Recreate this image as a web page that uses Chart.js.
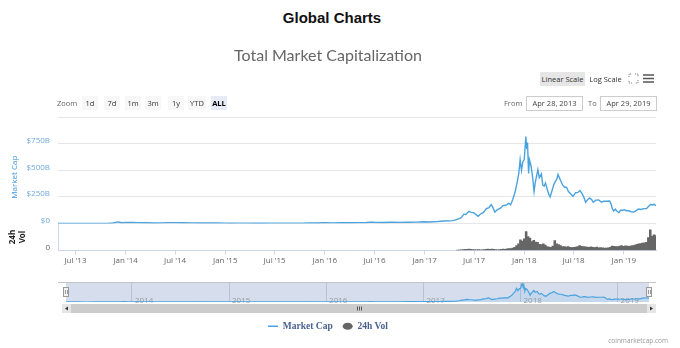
<!DOCTYPE html>
<html>
<head>
<meta charset="utf-8">
<script src="https://cdn.jsdelivr.net/npm/chart.js@4.4.1/dist/chart.umd.min.js"></script>
<style>
  html, body { margin: 0; padding: 0; background: #fff; }
  body { position: relative; width: 680px; height: 348px; overflow: hidden; font-family: "Open Sans", sans-serif; }
  #page-title { position: absolute; left: 0; top: 9px; width: 664px; text-align: center; font: bold 15px "Liberation Sans", Arial, sans-serif; color: #111; }
  #main { position: absolute; left: 0; top: 36px; }
  #nav { position: absolute; left: 0; top: 278px; }
  .btn { position: absolute; height: 14px; line-height: 14px; font-size: 7.5px; color: #333; text-align: center; }
  .zoom { top: 96px; background: #f7f7f7; width: 16px; }
  .zoom.on { background: #e6ebf5; font-weight: bold; color: #000; }
  .lbl { position: absolute; font-size: 7.5px; color: #666; line-height: 14px; }
  .box { position: absolute; top: 96px; height: 13px; line-height: 13px; border: 1px solid #ccc; font-size: 7.5px; color: #444; text-align: center; }
  #sep { position: absolute; left: 58px; top: 117px; width: 598px; height: 1px; background: #e6e6e6; }
  #credit { position: absolute; right: 12px; top: 336px; font-size: 6.5px; color: #999; }
</style>
</head>
<body>
<div id="page-title">Global Charts</div>
<canvas id="main" width="680" height="312"></canvas>
<canvas id="nav" width="680" height="40"></canvas>

<div class="btn" style="left:540px;top:72px;width:45px;background:#e6e6e6;">Linear Scale</div>
<div class="btn" style="left:589px;top:72px;width:33px;">Log Scale</div>
<svg style="position:absolute;left:628px;top:73px" width="11" height="11" viewBox="0 0 11 11">
  <path d="M1 4V1h3M7 1h3v3M10 7v3H7M4 10H1V7" fill="none" stroke="#888" stroke-width="1" stroke-dasharray="1.2 0.8"/>
</svg>
<svg style="position:absolute;left:643px;top:73px" width="11" height="11" viewBox="0 0 11 11">
  <path d="M0 2h11M0 5.5h11M0 9h11" stroke="#555" stroke-width="1.6"/>
</svg>

<div class="lbl" style="left:57px;top:96px;">Zoom</div>
<div class="btn zoom" style="left:82px;">1d</div>
<div class="btn zoom" style="left:104px;">7d</div>
<div class="btn zoom" style="left:125px;">1m</div>
<div class="btn zoom" style="left:145px;">3m</div>
<div class="btn zoom" style="left:168px;">1y</div>
<div class="btn zoom" style="left:188px;width:18px;">YTD</div>
<div class="btn zoom on" style="left:211px;">ALL</div>
<div class="lbl" style="left:504px;top:96px;">From</div>
<div class="box" style="left:526px;width:55px;">Apr 28, 2013</div>
<div class="lbl" style="left:588px;top:96px;">To</div>
<div class="box" style="left:600px;width:55px;">Apr 29, 2019</div>
<div id="sep"></div>
<div id="credit">coinmarketcap.com</div>

<script>
// total market capitalization, billions USD
var capDates = [
    '2013-04-28', '2013-05-15', '2013-06-15', '2013-07-15', '2013-08-15', '2013-09-15', '2013-10-15',
    '2013-11-01', '2013-11-15', '2013-11-30', '2013-12-04', '2013-12-18', '2014-01-05', '2014-01-25',
    '2014-02-15', '2014-03-15', '2014-04-15', '2014-05-15', '2014-06-05', '2014-07-01', '2014-08-01',
    '2014-09-01', '2014-10-01', '2014-11-01', '2014-12-01', '2015-01-01', '2015-01-15', '2015-02-15',
    '2015-03-15', '2015-04-15', '2015-05-15', '2015-06-15', '2015-07-15', '2015-08-15', '2015-09-15',
    '2015-10-15', '2015-11-05', '2015-12-01', '2016-01-01', '2016-02-01', '2016-03-01', '2016-04-01',
    '2016-05-01', '2016-06-01', '2016-06-18', '2016-07-01', '2016-08-01', '2016-09-01', '2016-10-01',
    '2016-11-01', '2016-12-01', '2017-01-01', '2017-01-15', '2017-02-01', '2017-02-15', '2017-03-01',
    '2017-03-15', '2017-04-01', '2017-04-15', '2017-05-01', '2017-05-15', '2017-05-25', '2017-06-01',
    '2017-06-12', '2017-06-20', '2017-07-01', '2017-07-16', '2017-07-25', '2017-08-05', '2017-08-15',
    '2017-08-25', '2017-09-02', '2017-09-08', '2017-09-15', '2017-09-25', '2017-10-05', '2017-10-15',
    '2017-10-25', '2017-11-05', '2017-11-12', '2017-11-20', '2017-11-29', '2017-12-07', '2017-12-12',
    '2017-12-17', '2017-12-22', '2017-12-27', '2018-01-01', '2018-01-07', '2018-01-10', '2018-01-13',
    '2018-01-17', '2018-01-20', '2018-01-26', '2018-02-01', '2018-02-06', '2018-02-10', '2018-02-20',
    '2018-02-25', '2018-03-05', '2018-03-10', '2018-03-15', '2018-03-20', '2018-03-31', '2018-04-06',
    '2018-04-12', '2018-04-20', '2018-05-01', '2018-05-05', '2018-05-15', '2018-05-22', '2018-05-29',
    '2018-06-05', '2018-06-12', '2018-06-20', '2018-06-29', '2018-07-08', '2018-07-16', '2018-07-24',
    '2018-08-01', '2018-08-08', '2018-08-14', '2018-08-20', '2018-08-28', '2018-09-05', '2018-09-11',
    '2018-09-20', '2018-10-01', '2018-10-11', '2018-10-20', '2018-11-01', '2018-11-10', '2018-11-15',
    '2018-11-20', '2018-11-25', '2018-12-01', '2018-12-07', '2018-12-14', '2018-12-20', '2018-12-28',
    '2019-01-05', '2019-01-10', '2019-01-20', '2019-01-28', '2019-02-06', '2019-02-15', '2019-02-24',
    '2019-03-05', '2019-03-15', '2019-03-25', '2019-04-02', '2019-04-10', '2019-04-15', '2019-04-22',
    '2019-04-29'
];
var capValues = [
    1.6, 1.5, 1.3, 1.1, 1.4, 1.7, 2.0,
    2.6, 5.5, 13.5, 15.0, 7.5, 11.0, 10.5,
    8.5, 8.0, 6.0, 6.5, 9.0, 8.5, 8.0,
    6.8, 5.2, 4.8, 5.5, 4.6, 3.2, 3.7,
    4.1, 3.6, 3.6, 3.7, 4.4, 4.2, 3.8,
    4.2, 6.6, 5.8, 7.0, 6.4, 8.0, 7.7,
    8.6, 10.5, 13.5, 12.0, 10.5, 11.8, 11.6,
    12.2, 13.2, 17.7, 15.2, 16.9, 18.1, 21.5,
    24.5, 25.5, 27.5, 40, 55, 88, 85,
    115, 105, 100, 68, 90, 105, 140,
    150, 178, 152, 108, 130, 142, 168,
    172, 190, 175, 225, 300, 400, 470,
    600, 500, 580, 600, 815, 700, 760,
    470, 600, 540, 430, 300, 380, 505,
    430, 465, 360, 350, 380, 280, 250,
    300, 370, 420, 460, 400, 360, 340,
    340, 300, 280, 255, 290, 290, 310,
    280, 245, 200, 220, 240, 225, 200,
    220, 222, 200, 210, 210, 212, 185,
    140, 118, 135, 115, 103, 125, 125,
    130, 120, 120, 110, 108, 122, 137,
    132, 140, 140, 162, 180, 175, 180,
    168
];

// 24h volume, billions USD, one value per week from volStart
var volStart = '2017-05-01';
var volValues = [
    1.5, 2.0, 3.0, 4.5, 5.5,        // May 17
    5.0, 6.5, 5.5, 4.5,             // Jun
    4.0, 3.5, 4.5, 3.0, 3.5,        // Jul
    4.5, 5.5, 6.5, 5.0,             // Aug
    6.0, 5.5, 4.0, 3.5,             // Sep
    4.0, 5.0, 6.5, 5.5, 7.0,        // Oct
    9.0, 8.0, 10.5, 14,             // Nov
    22, 30, 48, 42,                 // Dec
    52, 84, 62, 55, 40,             // Jan 18
    45, 38, 36, 28,                 // Feb
    26, 30, 24, 18,                 // Mar
    15, 14, 20, 44, 30,             // Apr
    26, 22, 18, 17,                 // May
    15, 18, 14, 13,                 // Jun
    14, 15, 17, 22, 19,             // Jul
    17, 16, 15, 14,                 // Aug
    16, 14, 13, 15,                 // Sep
    12, 13, 12, 11, 11,             // Oct
    12, 14, 20, 19,                 // Nov
    17, 18, 20, 22, 19,             // Dec
    21, 20, 19, 21,                 // Jan 19
    22, 24, 27, 30,                 // Feb
    31, 33, 34, 36,                 // Mar
    58, 92, 64, 70, 66              // Apr
];

var rangeFrom = '2013-04-28';
var rangeTo = '2019-04-29';
var capTicks = [0, 250, 500, 750];
var volTicks = [0];
var xTickDates = ['2013-07-01', '2014-01-01', '2014-07-01', '2015-01-01', '2015-07-01', '2016-01-01',
    '2016-07-01', '2017-01-01', '2017-07-01', '2018-01-01', '2018-07-01', '2019-01-01'];
var xTickLabels = ["Jul '13", "Jan '14", "Jul '14", "Jan '15", "Jul '15", "Jan '16",
    "Jul '16", "Jan '17", "Jul '17", "Jan '18", "Jul '18", "Jan '19"];
var navYears = ['2014', '2015', '2016', '2017', '2018', '2019'];

var DAY = 86400000;
function t(s) { return Date.parse(s + 'T00:00:00Z'); }

var capPoints = capDates.map(function (d, i) { return { x: t(d), y: capValues[i] }; });
var volPoints = volValues.map(function (v, i) { return { x: t(volStart) + i * 7 * DAY, y: v }; });

var blue = '#4aa3df';
var axisFont = { family: 'Open Sans', size: 8 };

new Chart(document.getElementById('main'), {
    type: 'line',
    data: {
        datasets: [{
            label: 'Market Cap',
            data: capPoints,
            yAxisID: 'yCap',
            borderColor: blue,
            backgroundColor: blue,
            borderWidth: 1.4,
            pointRadius: 0,
            pointStyle: 'line',
            tension: 0
        }, {
            type: 'bar',
            label: '24h Vol',
            data: volPoints,
            yAxisID: 'yVol',
            backgroundColor: '#666666',
            borderColor: '#666666',
            borderWidth: 0,
            barPercentage: 1,
            categoryPercentage: 1,
            grouped: false,
            pointStyle: 'circle'
        }]
    },
    options: {
        responsive: false,
        animation: false,
        events: [],
        layout: { padding: { left: 0, right: 24, top: 0, bottom: 7 } },
        plugins: {
            title: {
                display: true,
                text: 'Total Market Capitalization',
                color: '#666',
                font: { family: 'Lato', size: 16, weight: 'normal' },
                padding: { top: 10.5, bottom: 65.1 }
            },
            legend: {
                position: 'bottom',
                labels: {
                    usePointStyle: true,
                    pointStyleWidth: 10,
                    boxHeight: 5,
                    padding: 10,
                    color: '#4a6190',
                    font: { family: 'Liberation Serif', size: 9.5, weight: 'bold' }
                }
            },
            tooltip: { enabled: false }
        },
        scales: {
            x: {
                type: 'linear',
                min: t(rangeFrom),
                max: t(rangeTo),
                offset: false,
                afterBuildTicks: function (s) {
                    s.ticks = xTickDates.map(function (d) { return { value: t(d) }; });
                },
                afterFit: function (s) { s.height = 61; },
                ticks: {
                    autoSkip: false,
                    maxRotation: 0,
                    padding: 1,
                    color: '#666',
                    font: axisFont,
                    callback: function (v, i) { return xTickLabels[i]; }
                },
                grid: { drawOnChartArea: false, offset: false, tickLength: 4, color: '#ccd6eb' },
                border: { color: '#ccd6eb' }
            },
            yCap: {
                type: 'linear',
                position: 'left',
                stack: 'panes',
                stackWeight: 93,
                weight: 1,
                min: 0,
                max: 870,
                afterBuildTicks: function (s) {
                    s.ticks = capTicks.map(function (v) { return { value: v }; });
                },
                afterFit: function (s) { s.width = 58; },
                title: {
                    display: true,
                    text: 'Market Cap',
                    color: '#3f97dc',
                    font: { family: 'Open Sans', size: 8 },
                    padding: { top: 10, bottom: 0 }
                },
                ticks: {
                    padding: 8,
                    labelOffset: -3,
                    color: '#6ea9dc',
                    font: axisFont,
                    callback: function (v) { return '$' + v + (v ? 'B' : ''); }
                },
                grid: { color: '#e6e6e6', drawTicks: false },
                border: { display: false }
            },
            yVol: {
                type: 'linear',
                position: 'left',
                stack: 'panes',
                stackWeight: 27,
                weight: 0,
                min: 0,
                max: 120,
                afterBuildTicks: function (s) {
                    s.ticks = volTicks.map(function (v) { return { value: v }; });
                },
                afterFit: function (s) { s.width = 58; },
                title: {
                    display: true,
                    text: ['24h', 'Vol'],
                    color: '#222',
                    font: { family: 'Open Sans', size: 8, weight: 'bold' },
                    padding: { top: 8, bottom: 0 }
                },
                ticks: {
                    padding: 8,
                    labelOffset: -3,
                    color: '#666',
                    font: axisFont
                },
                grid: { color: '#e6e6e6', drawTicks: false },
                border: { display: true, color: '#ccd6eb' }
            }
        }
    }
});

// navigator chrome: mask, outline, handles and scrollbar
var navChrome = {
    id: 'navChrome',
    beforeDraw: function (chart) {
        var a = chart.chartArea, ctx = chart.ctx;
        ctx.save();
        ctx.fillStyle = 'rgba(102,133,194,0.27)';
        ctx.fillRect(a.left, a.top, a.right - a.left, a.bottom - a.top);
        ctx.restore();
    },
    afterDraw: function (chart) {
        var a = chart.chartArea, ctx = chart.ctx;
        ctx.save();
        ctx.strokeStyle = '#c4c4c4';
        ctx.lineWidth = 1;
        ctx.beginPath();
        ctx.moveTo(58, a.top + 0.5);
        ctx.lineTo(656, a.top + 0.5);
        ctx.stroke();

        [a.left, a.right].forEach(function (x) {
            ctx.fillStyle = '#f2f2f2';
            ctx.strokeStyle = '#999';
            ctx.fillRect(x - 3, a.top + 5, 6, 10);
            ctx.strokeRect(x - 2.5, a.top + 5.5, 5, 9);
            ctx.beginPath();
            ctx.moveTo(x - 0.5, a.top + 8);
            ctx.lineTo(x - 0.5, a.top + 12);
            ctx.moveTo(x + 1.5, a.top + 8);
            ctx.lineTo(x + 1.5, a.top + 12);
            ctx.stroke();
        });

        var y0 = a.bottom + 2, h = 9;
        ctx.fillStyle = '#f2f2f2';
        ctx.fillRect(62, y0, 594, h);
        ctx.fillStyle = '#cccccc';
        ctx.fillRect(71, y0, 576, h);
        ctx.fillStyle = '#e6e6e6';
        ctx.fillRect(62, y0, 9, h);
        ctx.fillRect(647, y0, 9, h);
        ctx.fillStyle = '#333';
        ctx.beginPath();
        ctx.moveTo(65, y0 + 4.5); ctx.lineTo(68, y0 + 2.5); ctx.lineTo(68, y0 + 6.5);
        ctx.closePath(); ctx.fill();
        ctx.beginPath();
        ctx.moveTo(653, y0 + 4.5); ctx.lineTo(650, y0 + 2.5); ctx.lineTo(650, y0 + 6.5);
        ctx.closePath(); ctx.fill();
        ctx.strokeStyle = '#555';
        ctx.beginPath();
        [-2, 0, 2].forEach(function (d) {
            ctx.moveTo(359.5 + d, y0 + 2.5);
            ctx.lineTo(359.5 + d, y0 + 6.5);
        });
        ctx.stroke();
        ctx.restore();
    }
};

new Chart(document.getElementById('nav'), {
    type: 'line',
    data: {
        datasets: [{
            data: capPoints,
            borderColor: blue,
            borderWidth: 1.2,
            backgroundColor: 'rgba(74,163,223,0.12)',
            fill: 'origin',
            pointRadius: 0,
            tension: 0
        }]
    },
    options: {
        responsive: false,
        animation: false,
        events: [],
        layout: { padding: { left: 66, right: 31, top: 4, bottom: 16 } },
        plugins: { legend: { display: false }, tooltip: { enabled: false } },
        scales: {
            x: {
                type: 'linear',
                min: t(rangeFrom),
                max: t(rangeTo),
                afterBuildTicks: function (s) {
                    s.ticks = navYears.map(function (y) { return { value: t(y + '-01-01') }; });
                },
                afterFit: function (s) { s.height = 0; },
                ticks: {
                    autoSkip: false,
                    maxRotation: 0,
                    mirror: true,
                    align: 'start',
                    labelOffset: 3,
                    padding: -4,
                    color: '#999',
                    font: { family: 'Open Sans', size: 8 },
                    callback: function (v, i) { return navYears[i]; }
                },
                grid: { color: 'rgba(150,160,185,0.45)', drawTicks: false },
                border: { display: false }
            },
            y: { display: false, min: 0, max: 880 }
        }
    },
    plugins: [navChrome]
});
</script>
</body>
</html>
